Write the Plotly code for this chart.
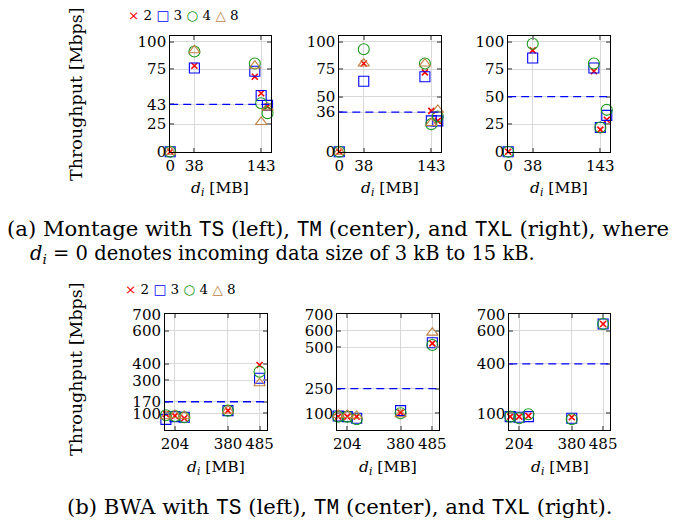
import plotly.graph_objects as go

# ---------------- data ----------------
series_names = ["2", "3", "4", "8"]

# (a) Montage: d_i positions (clusters drawn around 143)
montage_x = [0, 38, 133, 143, 153]
montage_xticks = [0, 38, 143]
montage_ts = {
    "2": [0, 78, 68, 53, 41],
    "3": [0, 76, 73, 51, 42],
    "4": [0, 91, 80, 44, 35],
    "8": [0, 92, 78, 27, 40],
}
montage_tm = {
    "2": [0, 80, 72, 37, 28],
    "3": [0, 64, 68, 28, 28],
    "4": [0, 93, 80, 25, 32],
    "8": [0, 80, 80, 26, 38],
}
montage_txl = {
    "2": [0, 92, 73, 20, 29],
    "3": [0, 85, 76, 22, 33],
    "4": [0, 98, 80, 22, 38],
    "8": [],
}
montage_thresholds = [43, 36, 50]
montage_yticks = [[0, 25, 43, 75, 100], [0, 36, 50, 75, 100], [0, 25, 50, 75, 100]]

# (b) BWA
bwa_x = [174, 204, 235, 380, 485]
bwa_xticks = [204, 380, 485]
bwa_ts = {
    "2": [95, 84, 70, 116, 393],
    "3": [63, 80, 76, 116, 312],
    "4": [88, 84, 76, 116, 352],
    "8": [82, 90, 84, 117, 282],
}
bwa_tm = {
    "2": [80, 80, 80, 104, 524],
    "3": [84, 80, 70, 116, 528],
    "4": [80, 80, 64, 100, 514],
    "8": [90, 90, 85, 94, 589],
}
bwa_txl = {
    "2": [80, 80, 84, 76, 641],
    "3": [80, 76, 80, 70, 641],
    "4": [80, 70, 94, 64, 641],
    "8": [],
}
bwa_thresholds = [170, 250, 400]
bwa_yticks = [[100, 170, 300, 400, 600, 700], [100, 250, 500, 600, 700], [100, 400, 600, 700]]

# ---------------- style ----------------
W, H = 676, 522
SERIF = "DejaVu Serif"
MONO = "Liberation Mono"
RED, BLUE, GREEN, BROWN = "#ff0000", "#0000ff", "#1a9a1a", "#bf8040"
marker_style = {
    "2": dict(symbol="x-thin", size=6, line=dict(color=RED, width=1.6), color=RED),
    "3": dict(symbol="square-open", size=10, line=dict(color=BLUE, width=1.1), color=BLUE),
    "4": dict(symbol="circle-open", size=11, line=dict(color=GREEN, width=1.1), color=GREEN),
    "8": dict(symbol="triangle-up-open", size=10, line=dict(color=BROWN, width=1.1), color=BROWN),
}


def px(x):
    return x / W


def py(y):
    return 1 - y / H


# panel boxes in pixels: (left, right, top, bottom)
panels = [
    (170.2, 270.7, 36.0, 151.7),
    (339.3, 441.0, 36.0, 151.7),
    (508.2, 610.0, 36.0, 151.7),
    (165.0, 266.5, 314.3, 429.8),
    (337.3, 439.3, 314.3, 429.8),
    (509.3, 610.0, 314.3, 429.8),
]

datasets = [
    (montage_x, montage_ts, montage_xticks, montage_yticks[0], montage_thresholds[0], [0, 158], [0, 105]),
    (montage_x, montage_tm, montage_xticks, montage_yticks[1], montage_thresholds[1], [0, 158], [0, 105]),
    (montage_x, montage_txl, montage_xticks, montage_yticks[2], montage_thresholds[2], [0, 158], [0, 105]),
    (bwa_x, bwa_ts, bwa_xticks, bwa_yticks[0], bwa_thresholds[0], [171, 508], [0, 700]),
    (bwa_x, bwa_tm, bwa_xticks, bwa_yticks[1], bwa_thresholds[1], [171, 508], [0, 700]),
    (bwa_x, bwa_txl, bwa_xticks, bwa_yticks[2], bwa_thresholds[2], [171, 508], [0, 700]),
]

fig = go.Figure()
layout = dict(
    template="none",
    width=W, height=H,
    margin=dict(l=0, r=0, t=0, b=0, pad=0, autoexpand=False),
    paper_bgcolor="white", plot_bgcolor="white",
    showlegend=False,
    font=dict(family=SERIF, size=15, color="black"),
)
shapes = []
annotations = []

axis_common = dict(
    automargin=False,
    showgrid=True, gridcolor="#d9d9d9", gridwidth=1,
    showline=True, linecolor="black", linewidth=1, mirror="ticks",
    ticks="inside", ticklen=4, tickwidth=1.5, tickcolor="#8c8c8c",
    zeroline=False, tickfont=dict(family=SERIF, size=15, color="black"),
    tickangle=0, fixedrange=True,
)

for i, ((l, r, t, b), (xs, ser, xt, yt, thr, xr, yr)) in enumerate(zip(panels, datasets)):
    k = i + 1
    xa = "x" if k == 1 else f"x{k}"
    ya = "y" if k == 1 else f"y{k}"
    layout["xaxis" if k == 1 else f"xaxis{k}"] = dict(
        axis_common, domain=[px(l), px(r)], range=xr, anchor=ya,
        tickmode="array", tickvals=xt, ticktext=[str(v) for v in xt],
    )
    layout["yaxis" if k == 1 else f"yaxis{k}"] = dict(
        axis_common, domain=[py(b), py(t)], range=yr, anchor=xa,
        tickmode="array", tickvals=yt, ticktext=[str(v) for v in yt],
    )
    for name in series_names:
        vals = ser[name]
        if not vals:
            continue
        fig.add_trace(go.Scatter(
            x=xs, y=vals, mode="markers", name=name,
            marker=marker_style[name], xaxis=xa, yaxis=ya,
            cliponaxis=False, showlegend=False,
        ))
    shapes.append(dict(
        type="line", xref=f"{xa} domain", yref=ya, x0=0, x1=1, y0=thr, y1=thr,
        line=dict(color=BLUE, width=1.3, dash="8px,5px"), layer="above",
    ))
    # x-axis title
    title_y = 189 if k <= 3 else 468
    annotations.append(dict(
        xref=f"{xa} domain", yref="paper", x=0.5, y=py(title_y),
        text="<i>d</i><sub><i>i</i></sub> [MB]", showarrow=False,
        font=dict(family=SERIF, size=15.5), xanchor="center", yanchor="middle",
    ))

# y-axis titles
for yc in (94, 369):
    annotations.append(dict(
        xref="paper", yref="paper", x=px(76), y=py(yc),
        text="Throughput [Mbps]", textangle=-90, showarrow=False,
        font=dict(family=SERIF, size=17.5), xanchor="center", yanchor="middle",
    ))

# legends (one per row)
legend_text = (
    f'<span style="color:{RED}">×</span> 2 '
    f'<span style="color:{BLUE}">□</span> 3 '
    f'<span style="color:{GREEN}">○</span> 4 '
    f'<span style="color:{BROWN}">△</span> 8'
)
for (lx, ly) in ((126, 15), (123, 289)):
    annotations.append(dict(
        xref="paper", yref="paper", x=px(lx), y=py(ly),
        text=legend_text, showarrow=False,
        font=dict(family=SERIF, size=13.5), xanchor="left", yanchor="middle",
    ))

tt = lambda s: f'<span style="font-family:{MONO}">{s}</span>'
captions = [
    (5, 229, f"(a) Montage with {tt('TS')} (left), {tt('TM')} (center), and {tt('TXL')} (right), where", "left", 21.2),
    (28, 254, "<i>d</i><sub><i>i</i></sub> = 0 denotes incoming data size of 3 kB to 15 kB.", "left", 19.5),
    (340, 507, f"(b) BWA with {tt('TS')} (left), {tt('TM')} (center), and {tt('TXL')} (right).", "center", 21.2),
]
for (cx, cy, txt, anc, fs) in captions:
    annotations.append(dict(
        xref="paper", yref="paper", x=px(cx), y=py(cy),
        text=txt, showarrow=False,
        font=dict(family=SERIF, size=fs), xanchor=anc, yanchor="middle",
    ))

layout["shapes"] = shapes
layout["annotations"] = annotations
fig.update_layout(**layout)
fig.write_html(
    "out.html",
    config={"displayModeBar": False},
    post_script="document.body.style.margin='0';document.body.style.overflow='hidden';",
)
